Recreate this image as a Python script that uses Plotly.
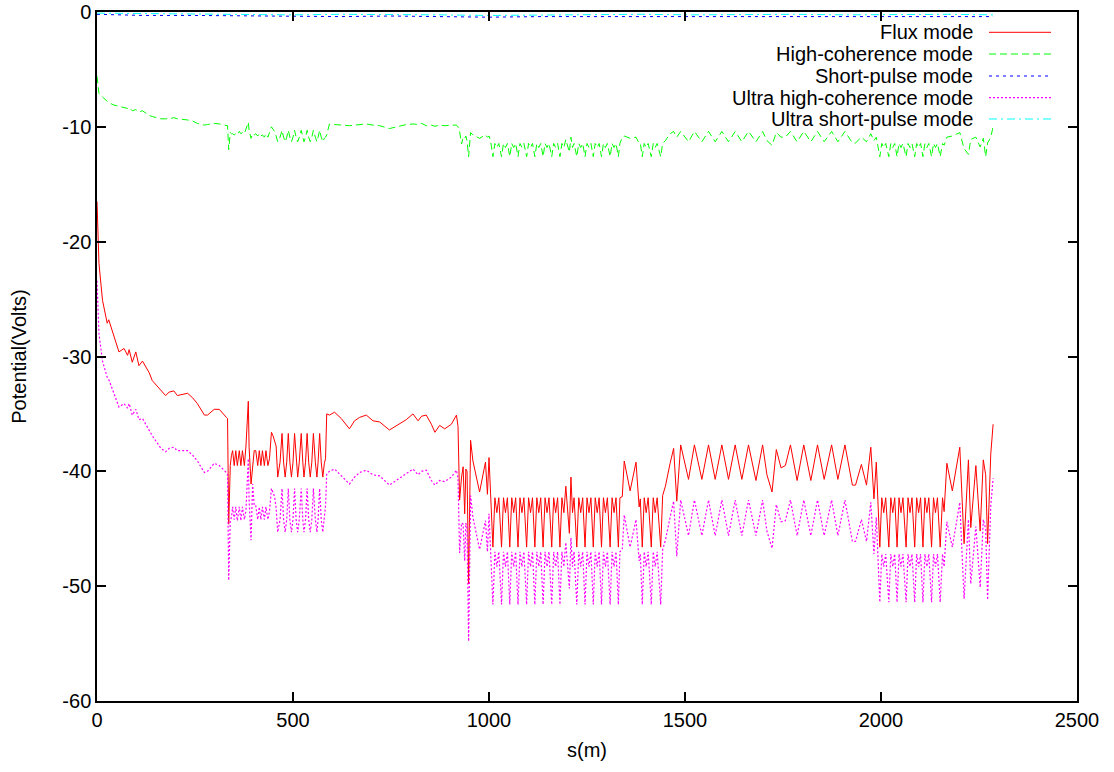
import plotly.graph_objects as go

# ---------------- data ----------------
# position along the machine, s (m) -- shared by the three lower curves
S = [
    0, 5, 14, 26, 30, 43, 56, 69, 78, 82, 90, 99, 107, 116, 133, 141, 163, 175, 184, 196, 205, 231, 244, 256, 274, 282, 299, 312, 330,
    333, 336, 340, 343, 346, 350, 354, 358, 363, 367, 371, 376, 380, 386, 388, 393, 397, 401, 405, 410, 414, 418, 422, 427, 431, 436, 440, 445, 449, 453, 457, 461,
    467, 472, 476, 480, 484, 488, 492, 496, 500, 504, 508, 512, 516, 521, 525, 528, 532, 536, 540, 544, 548, 552, 557, 561, 564, 568, 572, 576, 580, 583,
    586, 593, 606, 623, 644, 657, 670, 687, 704, 721, 746, 772, 789, 806, 819, 828, 840, 853, 862, 874, 887, 904, 917, 921,
    925, 930, 934, 938, 941, 944, 948, 953, 959, 976, 991, 996, 1000, 1004,
    1010, 1015, 1020, 1025, 1032, 1037, 1042, 1047, 1053, 1058, 1063, 1068, 1074, 1079, 1084, 1089,
    1096, 1101, 1106, 1111, 1117, 1122, 1127, 1132, 1138, 1143, 1148, 1153, 1160, 1165, 1170, 1175,
    1181, 1186, 1191, 1196, 1205, 1209, 1213, 1217, 1224, 1229, 1234, 1239, 1245, 1250, 1255, 1260,
    1266, 1271, 1276, 1281, 1287, 1292, 1297, 1302, 1309, 1314, 1319, 1324, 1330,
    1334, 1340, 1345, 1360, 1375, 1383, 1386, 1391, 1396, 1401, 1406, 1414, 1419, 1424, 1429, 1438, 1443, 1450, 1462, 1471, 1479,
    1489, 1509, 1524, 1543, 1560, 1577, 1594, 1611, 1628, 1645, 1662, 1681, 1698, 1709, 1722, 1733, 1745, 1756, 1769, 1786,
    1803, 1821, 1838, 1855, 1874, 1890, 1908, 1927, 1935, 1950, 1963, 1974, 1982, 1988,
    1997, 2002, 2007, 2012, 2020, 2025, 2030, 2035, 2041, 2046, 2051, 2056, 2064, 2069, 2074, 2079,
    2086, 2091, 2096, 2101, 2107, 2112, 2117, 2122, 2129, 2134, 2139, 2144, 2151,
    2157, 2161, 2168, 2182, 2201, 2212, 2223, 2229, 2242, 2253, 2261, 2267, 2272, 2280, 2286,
]

FLUX = [
    -16.5, -21.9, -25.1, -27.1, -26.8, -28.3, -29.6, -29.3, -29.9, -29.4, -30.5, -29.6, -30.8, -30.4, -31.4, -32.1, -33.0, -33.4, -33.1, -33.0, -33.4, -33.2, -33.6, -34.1, -35.1, -35.1, -34.6, -34.6, -35.3,
    -35.4, -44.6, -39.5, -38.6, -38.2, -39.5, -38.2, -39.5, -38.2, -39.5, -38.2, -39.5, -37.8, -33.9, -37.9, -41.1, -39.5, -38.2, -38.2, -39.5, -38.2, -39.5, -38.2, -39.5, -38.2, -39.5, -38.9, -36.6, -36.9, -37.3, -37.8, -40.5,
    -39.2, -36.7, -39.2, -40.5, -39.2, -36.7, -39.2, -40.5, -39.2, -36.7, -39.2, -40.5, -39.2, -36.7, -39.2, -40.5, -39.2, -36.7, -39.2, -40.5, -39.2, -36.7, -39.2, -40.5, -39.2, -36.7, -39.2, -40.5, -39.3, -38.9,
    -35.0, -35.1, -34.85, -35.4, -36.3, -35.6, -35.3, -35.1, -35.6, -35.7, -36.4, -35.9, -35.5, -35.0, -35.6, -35.2, -35.1, -35.9, -36.6, -36.0, -36.3, -35.9, -35.1, -36.1,
    -42.5, -40.5, -39.6, -43.7, -39.8, -40.0, -49.8, -37.3, -39.1, -41.8, -39.2, -42.0, -38.8, -41.9,
    -46.6, -42.3, -43.6, -42.3, -46.6, -42.3, -43.6, -42.3, -46.6, -42.3, -43.6, -42.3, -46.6, -42.3, -43.6, -42.3,
    -46.6, -42.3, -43.6, -42.3, -46.6, -42.3, -43.6, -42.3, -46.6, -42.3, -43.6, -42.3, -46.6, -42.3, -43.6, -42.3,
    -46.6, -42.3, -43.6, -41.3, -45.4, -40.5, -43.6, -42.3, -46.6, -42.3, -43.6, -42.3, -46.6, -42.3, -43.6, -42.3,
    -46.6, -42.3, -43.6, -42.3, -46.6, -42.3, -43.6, -42.3, -46.6, -42.3, -43.6, -42.3, -46.6,
    -42.3, -42.2, -39.1, -41.7, -39.2, -43.1, -42.4, -46.6, -42.3, -43.6, -42.3, -46.6, -42.3, -43.6, -42.3, -46.6, -42.1, -41.3, -39.3, -38.0, -42.6,
    -37.7, -40.7, -37.7, -40.7, -37.7, -40.7, -37.7, -40.7, -37.7, -40.7, -37.7, -40.8, -37.7, -40.3, -41.8, -38.1, -39.7, -39.5, -37.7, -40.8,
    -37.7, -40.8, -37.7, -40.7, -37.7, -40.7, -37.7, -41.2, -41.2, -39.4, -41.2, -37.9, -42.4, -39.2,
    -46.6, -42.3, -43.6, -42.3, -46.6, -42.3, -43.6, -42.3, -46.6, -42.3, -43.6, -42.3, -46.6, -42.3, -43.6, -42.3,
    -46.6, -42.3, -43.6, -42.3, -46.6, -42.3, -43.6, -42.3, -46.6, -42.3, -43.6, -42.3, -46.6,
    -42.3, -43.5, -39.3, -41.7, -37.9, -46.3, -39.0, -44.9, -39.5, -45.2, -39.0, -40.3, -46.3, -38.5, -35.9,
]

HIGH_COH = [
    -5.6, -7.1, -7.4, -7.8, -7.9, -8.1, -8.2, -8.3, -8.4, -8.3, -8.6, -8.5, -8.7, -8.6, -9.0, -9.1, -9.3, -9.3, -9.3, -9.2, -9.3, -9.4, -9.5, -9.7, -9.85, -9.8, -9.7, -9.75, -9.85,
    -9.9, -12.0, -10.5, -10.6, -10.6, -10.7, -10.6, -10.7, -10.4, -10.6, -10.5, -10.6, -10.2, -9.6, -10.3, -11.0, -10.6, -10.7, -10.6, -10.8, -10.6, -10.8, -10.7, -10.9, -10.6, -10.9, -10.5, -10.0, -10.2, -10.4, -10.8, -11.3,
    -10.9, -10.3, -10.9, -11.3, -10.9, -10.3, -10.9, -11.3, -10.9, -10.3, -10.9, -11.3, -10.9, -10.3, -10.9, -11.3, -10.9, -10.3, -10.9, -11.3, -10.9, -10.3, -10.9, -11.3, -10.9, -10.3, -10.9, -11.3, -11.0, -10.9,
    -10.7, -9.75, -9.8, -9.85, -9.9, -9.85, -9.8, -9.75, -9.85, -9.9, -10.15, -9.9, -9.8, -9.75, -9.8, -9.7, -9.9, -9.85, -9.95, -9.85, -9.9, -9.85, -9.85, -10.0,
    -10.4, -11.5, -10.9, -11.0, -10.8, -11.2, -12.6, -10.5, -10.7, -11.0, -10.7, -10.9, -10.8, -11.2,
    -12.6, -11.45, -11.8, -11.45, -12.6, -11.45, -11.8, -11.45, -12.6, -11.45, -11.8, -11.45, -12.6, -11.45, -11.8, -11.45,
    -12.6, -11.45, -11.8, -11.45, -12.6, -11.45, -11.8, -11.45, -12.6, -11.45, -11.8, -11.45, -12.6, -11.45, -11.8, -11.45,
    -12.6, -11.45, -11.8, -11.1, -12.2, -10.9, -11.8, -11.45, -12.6, -11.45, -11.8, -11.45, -12.6, -11.45, -11.8, -11.45,
    -12.6, -11.45, -11.8, -11.45, -12.6, -11.45, -11.8, -11.45, -12.6, -11.45, -11.8, -11.45, -12.6,
    -11.45, -10.9, -10.8, -11.0, -10.9, -11.45, -11.45, -12.6, -11.45, -11.8, -11.45, -12.6, -11.45, -11.8, -11.45, -12.6, -11.45, -11.2, -10.6, -10.4, -10.9,
    -10.4, -11.3, -10.4, -11.3, -10.4, -11.3, -10.4, -11.3, -10.4, -11.3, -10.4, -11.3, -10.4, -11.2, -11.6, -10.5, -10.9, -10.9, -10.4, -11.3,
    -10.4, -11.3, -10.4, -11.3, -10.4, -11.3, -10.4, -11.4, -11.4, -10.9, -11.3, -10.6, -11.2, -10.9,
    -12.6, -11.45, -11.8, -11.45, -12.6, -11.45, -11.8, -11.45, -12.6, -11.45, -11.8, -11.45, -12.6, -11.45, -11.8, -11.45,
    -12.6, -11.45, -11.8, -11.45, -12.6, -11.45, -11.8, -11.45, -12.6, -11.45, -11.8, -11.45, -12.6,
    -11.45, -11.6, -10.9, -10.8, -10.5, -11.9, -12.4, -11.1, -10.9, -11.75, -11.0, -12.6, -11.4, -10.9, -10.0,
]

ULTRA_HIGH_COH = [
    -23.4, -28.0, -30.4, -31.8, -32.0, -33.2, -34.4, -34.1, -34.5, -34.1, -35.1, -34.6, -35.5, -35.4, -36.5, -36.9, -38.0, -38.3, -38.0, -37.9, -38.2, -38.2, -38.6, -39.1, -40.1, -40.0, -39.3, -39.5, -40.1,
    -40.3, -49.5, -44.3, -44.0, -43.1, -44.2, -43.1, -44.3, -43.1, -44.3, -43.1, -44.2, -43.4, -38.9, -42.5, -46.0, -41.1, -43.0, -43.0, -44.2, -43.1, -44.2, -43.1, -44.2, -43.1, -44.2, -43.5, -41.5, -41.8, -42.2, -43.2, -45.3,
    -44.2, -41.5, -44.2, -45.3, -44.2, -41.5, -44.2, -45.3, -44.2, -41.5, -44.2, -45.3, -44.2, -41.5, -44.2, -45.3, -44.2, -41.5, -44.2, -45.3, -44.2, -41.5, -44.2, -45.3, -44.2, -41.5, -44.2, -45.3, -44.0, -43.0,
    -40.2, -40.0, -39.8, -40.4, -41.1, -40.5, -40.1, -39.9, -40.3, -40.4, -41.2, -40.6, -40.2, -39.8, -40.3, -40.0, -39.9, -40.8, -41.2, -40.8, -40.9, -40.5, -39.9, -40.6,
    -47.1, -44.5, -44.6, -47.8, -44.5, -45.0, -54.8, -42.1, -44.0, -46.8, -44.3, -47.0, -43.7, -47.0,
    -51.6, -47.0, -48.3, -47.0, -51.6, -47.0, -48.3, -47.0, -51.6, -47.0, -48.3, -47.0, -51.6, -47.0, -48.3, -47.0,
    -51.6, -47.0, -48.3, -47.0, -51.6, -47.0, -48.3, -47.0, -51.6, -47.0, -48.3, -47.0, -51.6, -47.0, -48.3, -47.0,
    -51.6, -47.0, -48.3, -46.2, -50.2, -45.8, -48.3, -47.0, -51.6, -47.0, -48.3, -47.0, -51.6, -47.0, -48.3, -47.0,
    -51.6, -47.0, -48.3, -47.0, -51.6, -47.0, -48.3, -47.0, -51.6, -47.0, -48.3, -47.0, -51.6,
    -47.0, -46.8, -43.8, -46.6, -44.2, -47.8, -47.2, -51.6, -47.0, -48.3, -47.0, -51.6, -47.0, -48.3, -47.0, -51.6, -46.8, -46.0, -44.0, -42.6, -47.4,
    -42.5, -45.6, -42.5, -45.6, -42.5, -45.6, -42.5, -45.6, -42.5, -45.6, -42.5, -45.6, -42.5, -45.2, -46.7, -42.9, -44.4, -44.3, -42.5, -45.6,
    -42.5, -45.6, -42.5, -45.6, -42.5, -45.6, -42.5, -46.1, -46.1, -44.2, -46.1, -42.7, -47.2, -44.0,
    -51.4, -47.2, -48.3, -47.2, -51.4, -47.2, -48.3, -47.2, -51.4, -47.2, -48.3, -47.2, -51.4, -47.2, -48.3, -47.2,
    -51.4, -47.2, -48.3, -47.2, -51.4, -47.2, -48.3, -47.2, -51.4, -47.2, -48.3, -47.2, -51.4,
    -47.2, -48.3, -44.4, -46.6, -42.7, -51.1, -44.2, -49.8, -44.8, -50.1, -44.2, -45.0, -51.2, -43.0, -40.6,
]

# the two short-pulse modes stay just below 0 V
S_SHORT = [0, 120, 250, 380, 500, 620, 750, 880, 1000, 1130, 1260, 1390, 1520, 1650, 1780, 1910, 2040, 2170, 2286]
SHORT_PULSE = [-0.2, -0.3, -0.3, -0.35, -0.4, -0.4, -0.35, -0.4, -0.45, -0.4, -0.4, -0.35, -0.4, -0.4, -0.35, -0.4, -0.4, -0.35, -0.4]
ULTRA_SHORT = [-0.1, -0.15, -0.2, -0.2, -0.25, -0.2, -0.2, -0.25, -0.3, -0.25, -0.2, -0.2, -0.25, -0.2, -0.2, -0.25, -0.2, -0.2, -0.25]

X_TICKS = [0, 500, 1000, 1500, 2000, 2500]
Y_TICKS = [0, -10, -20, -30, -40, -50, -60]
NAMES = ["Flux mode", "High-coherence mode", "Short-pulse mode",
         "Ultra high-coherence mode", "Ultra short-pulse mode"]

# ---------------- styling ----------------
FONT = "Liberation Sans, Arial, Helvetica, sans-serif"
COLORS = ["#ff0000", "#00ff00", "#0000ff", "#ff00ff", "#00ffff"]
DASHES = ["solid", "7px,4px", "3px,4px", "2px,2px", "8px,4px,2px,4px"]
WIDTHS = [1, 1, 1, 1.2, 1]

series = [(S, FLUX), (S, HIGH_COH), (S_SHORT, SHORT_PULSE),
          (S, ULTRA_HIGH_COH), (S_SHORT, ULTRA_SHORT)]

fig = go.Figure()
for (xs, ys), name, col, dash, wd in zip(series, NAMES, COLORS, DASHES, WIDTHS):
    fig.add_trace(go.Scatter(x=xs, y=ys, mode="lines", name=name,
                             line=dict(color=col, width=wd, dash=dash),
                             hoverinfo="skip"))

# gnuplot-style key: right-aligned text, sample line to its right
L, R, T, B = 97, 37, 12, 71
W, H = 1114, 772
pw, ph = W - L - R, H - T - B
key_rows_px = [32.3, 54, 76, 97.7, 119]
annotations, shapes = [], []
for i, (name, col, dash, wd) in enumerate(zip(NAMES, COLORS, DASHES, WIDTHS)):
    yp = 1 - (key_rows_px[i] - T) / ph
    annotations.append(dict(xref="paper", yref="paper", x=(975 - L) / pw, y=yp,
                            xanchor="right", yanchor="middle", showarrow=False,
                            text=name, font=dict(family=FONT, size=20, color="black")))
    shapes.append(dict(type="line", xref="paper", yref="paper",
                       x0=(989 - L) / pw, x1=(1051 - L) / pw, y0=yp, y1=yp,
                       line=dict(color=col, width=wd, dash=dash)))

axis_common = dict(showgrid=False, zeroline=False, showline=True, linecolor="black",
                   linewidth=1.5, mirror="ticks", ticks="inside", ticklen=9,
                   tickwidth=1.5, tickcolor="black", automargin=False,
                   tickfont=dict(family=FONT, size=20, color="black"))

fig.update_layout(
    width=W, height=H, showlegend=False,
    margin=dict(l=L, r=R, t=T, b=B, pad=0, autoexpand=False),
    paper_bgcolor="white", plot_bgcolor="white",
    font=dict(family=FONT, size=20, color="black"),
    xaxis=dict(range=[0, 2500], tickvals=X_TICKS, ticktext=[str(v) for v in X_TICKS],
               title=dict(text="s(m)", font=dict(family=FONT, size=20), standoff=13),
               **axis_common),
    yaxis=dict(range=[-60, 0], tickvals=Y_TICKS, ticktext=[str(v) for v in Y_TICKS],
               title=dict(text="Potential(Volts)", font=dict(family=FONT, size=20), standoff=30),
               **axis_common),
    annotations=annotations, shapes=shapes,
)

fig.write_html("out.html", config={"displayModeBar": False},
               post_script="document.body.style.margin='0';document.body.style.overflow='hidden';")
